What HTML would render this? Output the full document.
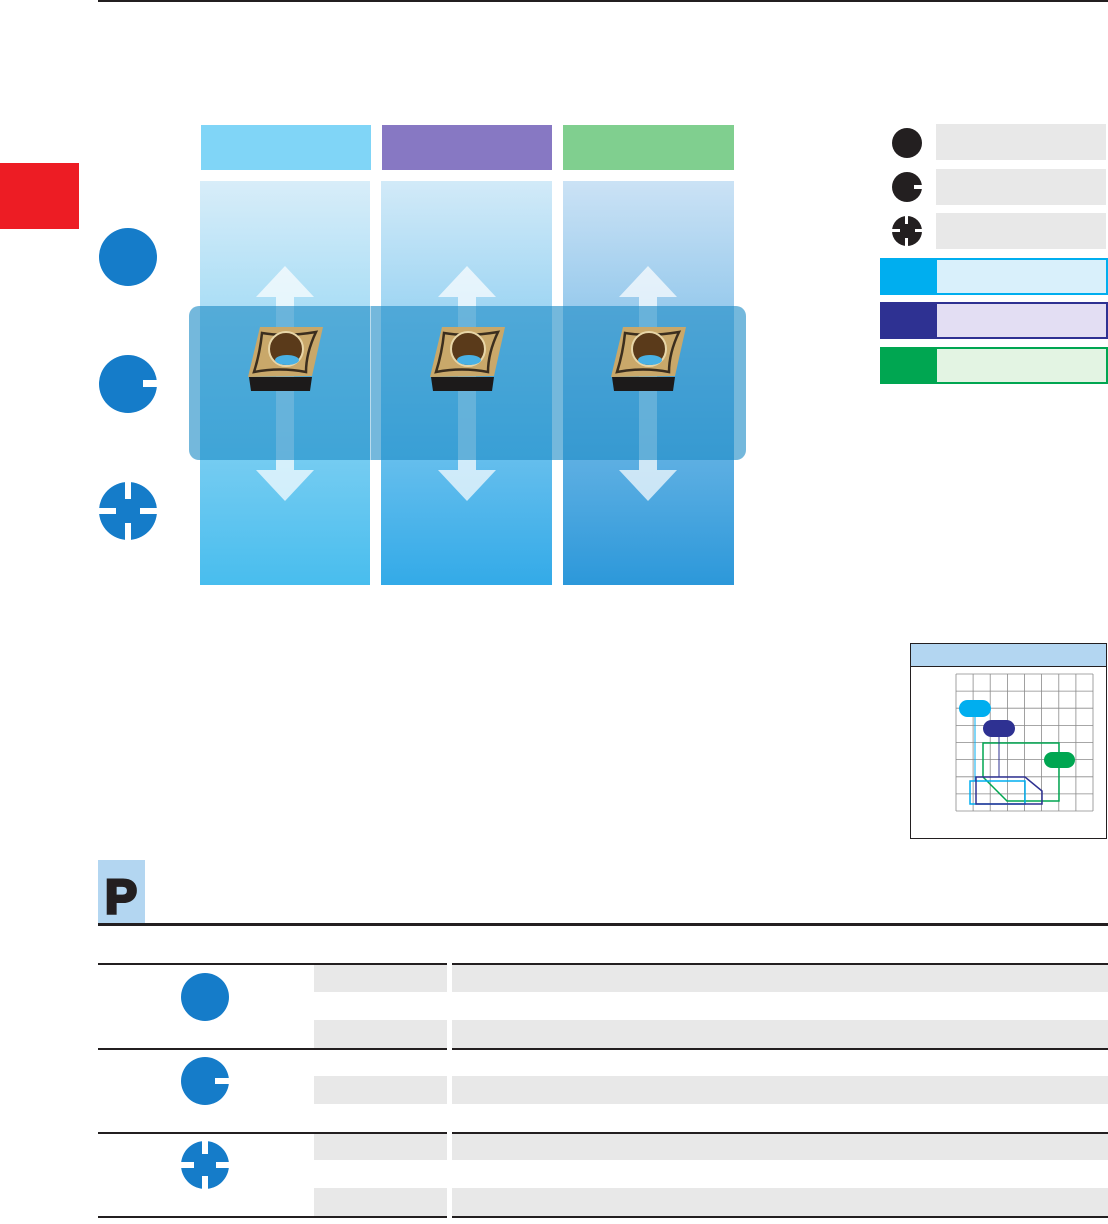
<!DOCTYPE html>
<html><head><meta charset="utf-8"><style>
html,body{margin:0;padding:0;background:#fff;}
svg{display:block;}
</style></head><body>
<svg width="1108" height="1224" viewBox="0 0 1108 1224" xmlns="http://www.w3.org/2000/svg">
<defs>
<linearGradient id="g1" x1="0" y1="0" x2="0" y2="1"><stop offset="0" stop-color="#d8edf9"/><stop offset="1" stop-color="#48bdee"/></linearGradient>
<linearGradient id="g2" x1="0" y1="0" x2="0" y2="1"><stop offset="0" stop-color="#d2eaf8"/><stop offset="1" stop-color="#33aae8"/></linearGradient>
<linearGradient id="g3" x1="0" y1="0" x2="0" y2="1"><stop offset="0" stop-color="#cbe2f5"/><stop offset="1" stop-color="#2c98da"/></linearGradient>
<g id="arrow">
<polygon points="-29,31 0,0 29,31 9,31 9,204 29,204 0,235 -29,204 -9,204 -9,31" fill="#ffffff" fill-opacity="0.7"/>
</g>
<g id="ins">
<polygon points="12,0 75,0 64,49 0,50" fill="#c9a86a"/>
<polygon points="1,50 64,50 62,64 3,64" fill="#1c1a1a"/>
<path d="M14,6 Q38,10 68,5 Q58,26 58,45 Q32,40 6,45 Q12,26 14,6Z" fill="none" stroke="#3b2e1e" stroke-width="2.5"/>
<circle cx="38" cy="22" r="17" fill="#5a3a1a"/>
<circle cx="38" cy="22" r="17" fill="none" stroke="#e8d6a8" stroke-width="2"/>
<ellipse cx="39" cy="33" rx="12" ry="5" fill="#49b1e4"/>
</g>
</defs>
<rect x="98" y="0" width="1010" height="2" fill="#231f20"/>
<rect x="0" y="163" width="79" height="66" fill="#ed1c24"/>
<rect x="201" y="125" width="170" height="45" fill="#80d5f7"/>
<rect x="382" y="125" width="170" height="45" fill="#8778c3"/>
<rect x="563" y="125" width="171" height="45" fill="#80cf8f"/>
<rect x="200" y="181" width="170" height="404" fill="url(#g1)"/>
<rect x="381" y="181" width="171" height="404" fill="url(#g2)"/>
<rect x="563" y="181" width="171" height="404" fill="url(#g3)"/>
<use href="#arrow" x="285" y="266"/>
<use href="#arrow" x="467" y="266"/>
<use href="#arrow" x="648" y="266"/>
<rect x="189" y="306" width="557" height="154" rx="10" fill="#1f8cc6" fill-opacity="0.62"/>
<rect x="370" y="306" width="1" height="154" fill="#ffffff" fill-opacity="0.5"/>
<use href="#ins" x="248" y="327"/>
<use href="#ins" x="430" y="327"/>
<use href="#ins" x="611" y="327"/>
<circle cx="128" cy="257" r="29" fill="#157cc9"/>
<circle cx="128" cy="384" r="29" fill="#157cc9"/>
<rect x="143" y="380" width="16" height="7" fill="#fff"/>
<circle cx="128" cy="511" r="29" fill="#157cc9"/>
<rect x="125" y="480" width="6" height="19" fill="#fff"/><rect x="125" y="523" width="6" height="19" fill="#fff"/>
<rect x="97" y="508" width="19" height="6" fill="#fff"/><rect x="140" y="508" width="19" height="6" fill="#fff"/>
<circle cx="907" cy="143" r="15" fill="#231f20"/>
<rect x="936" y="124" width="170" height="36" fill="#e8e8e8"/>
<circle cx="907" cy="187" r="15" fill="#231f20"/>
<rect x="914" y="185" width="9" height="4" fill="#fff"/>
<rect x="936" y="169" width="170" height="36" fill="#e8e8e8"/>
<circle cx="907" cy="231" r="15" fill="#231f20"/>
<rect x="905" y="215" width="3" height="9" fill="#fff"/><rect x="905" y="238" width="3" height="9" fill="#fff"/>
<rect x="891" y="229" width="9" height="3" fill="#fff"/><rect x="915" y="229" width="9" height="3" fill="#fff"/>
<rect x="936" y="213" width="170" height="36" fill="#e8e8e8"/>
<rect x="880" y="258" width="228" height="37" fill="#00aeef"/><rect x="937" y="260" width="169" height="33" fill="#d9f0fb"/>
<rect x="880" y="302" width="228" height="37" fill="#2e3192"/><rect x="937" y="304" width="169" height="33" fill="#e3def3"/>
<rect x="880" y="347" width="228" height="37" fill="#00a651"/><rect x="937" y="349" width="169" height="33" fill="#e3f4e3"/>
<rect x="910.5" y="643.5" width="196" height="195" fill="#fff" stroke="#231f20" stroke-width="1"/>
<rect x="911" y="644" width="195" height="22" fill="#b3d6f1"/>
<line x1="910" y1="666.5" x2="1107" y2="666.5" stroke="#231f20" stroke-width="1"/>
<g stroke="#8a8a8a" stroke-width="0.8" fill="none">
<path d="M956 674V811M973.1 674V811M990.2 674V811M1007.4 674V811M1024.5 674V811M1041.6 674V811M1058.8 674V811M1075.9 674V811M1093 674V811"/>
<path d="M956 674H1093M956 691.1H1093M956 708.2H1093M956 725.4H1093M956 742.5H1093M956 759.6H1093M956 776.8H1093M956 793.9H1093M956 811H1093"/>
</g>
<path d="M983 743H1059V801H1007L983 777Z" fill="none" stroke="#00a651" stroke-width="1.5"/>
<line x1="975" y1="717" x2="975" y2="781" stroke="#00aeef" stroke-width="1"/>
<rect x="970" y="781" width="55" height="23" fill="none" stroke="#00aeef" stroke-width="1.5"/>
<line x1="999" y1="737" x2="999" y2="777" stroke="#2e3192" stroke-width="1"/>
<path d="M976 777H1025L1042 791V804H976Z" fill="none" stroke="#2e3192" stroke-width="1.5"/>
<rect x="959" y="700" width="32" height="17" rx="8.5" fill="#00aeef"/>
<rect x="983" y="720" width="32" height="17" rx="8.5" fill="#2e3192"/>
<rect x="1044" y="752" width="31" height="16" rx="8" fill="#00a651"/>
<rect x="98" y="860" width="47" height="63" fill="#b3d6f1"/>
<text x="105" y="913" font-family="Liberation Sans, sans-serif" font-weight="bold" font-size="48" fill="#231f20" stroke="#231f20" stroke-width="3">P</text>
<rect x="98" y="923" width="1010" height="3" fill="#231f20"/>
<rect x="314" y="964" width="133" height="28" fill="#e8e8e8"/><rect x="452" y="964" width="656" height="28" fill="#e8e8e8"/>
<rect x="314" y="1020" width="133" height="28" fill="#e8e8e8"/><rect x="452" y="1020" width="656" height="28" fill="#e8e8e8"/>
<rect x="314" y="1076" width="133" height="28" fill="#e8e8e8"/><rect x="452" y="1076" width="656" height="28" fill="#e8e8e8"/>
<rect x="314" y="1132" width="133" height="28" fill="#e8e8e8"/><rect x="452" y="1132" width="656" height="28" fill="#e8e8e8"/>
<rect x="314" y="1188" width="133" height="28" fill="#e8e8e8"/><rect x="452" y="1188" width="656" height="28" fill="#e8e8e8"/>
<g fill="#231f20">
<rect x="98" y="963" width="349" height="2"/><rect x="452" y="963" width="656" height="2"/>
<rect x="98" y="1048" width="349" height="2"/><rect x="452" y="1048" width="656" height="2"/>
<rect x="98" y="1132" width="349" height="2"/><rect x="452" y="1132" width="656" height="2"/>
<rect x="98" y="1216" width="349" height="2"/><rect x="452" y="1216" width="656" height="2"/>
</g>
<circle cx="205" cy="997" r="24" fill="#157cc9"/>
<circle cx="205" cy="1081" r="24" fill="#157cc9"/>
<rect x="215" y="1078" width="15" height="6" fill="#fff"/>
<circle cx="205" cy="1165" r="24" fill="#157cc9"/>
<rect x="202" y="1140" width="6" height="14" fill="#fff"/><rect x="202" y="1176" width="6" height="14" fill="#fff"/>
<rect x="180" y="1162" width="14" height="6" fill="#fff"/><rect x="216" y="1162" width="14" height="6" fill="#fff"/>
</svg>
</body></html>
